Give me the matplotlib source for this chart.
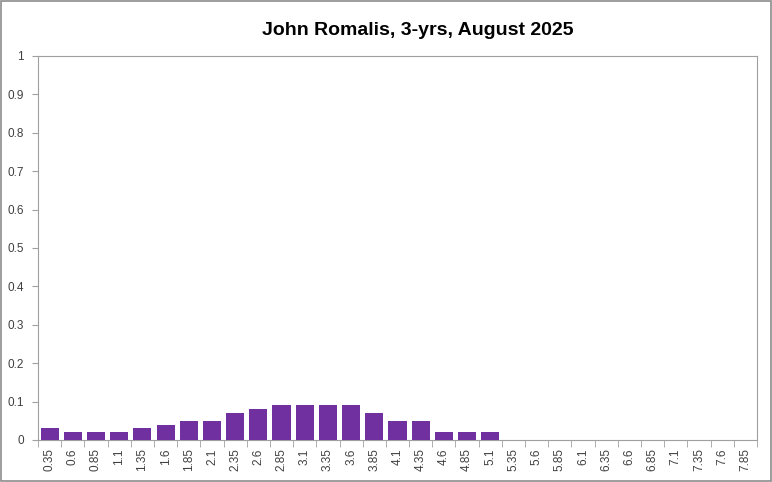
import matplotlib
matplotlib.use("Agg")
import matplotlib.pyplot as plt
import numpy as np

categories = [f"{0.35 + 0.25*i:.2f}".rstrip("0").rstrip(".") for i in range(31)]
values = [0.03, 0.02, 0.02, 0.02, 0.03, 0.04, 0.05, 0.05, 0.07, 0.08,
          0.09, 0.09, 0.09, 0.09, 0.07, 0.05, 0.05, 0.02, 0.02, 0.02,
          0, 0, 0, 0, 0, 0, 0, 0, 0, 0, 0]
yticks = [0, 0.1, 0.2, 0.3, 0.4, 0.5, 0.6, 0.7, 0.8, 0.9, 1]
ytick_labels = ["0", "0.1", "0.2", "0.3", "0.4", "0.5", "0.6", "0.7", "0.8", "0.9", "1"]

plt.rcParams['font.family'] = ['Liberation Sans', 'DejaVu Sans']

fig = plt.figure(figsize=(7.72, 4.82), dpi=100)
ax = fig.add_axes([38/772, 1 - 440/482, (757-38)/772, (440-56)/482])

x = np.arange(len(categories))
ax.bar(x, values, width=0.78, color="#7030A0", zorder=3)
ax.set_xlim(-0.5, len(categories) - 0.5)
ax.set_ylim(0, 1)
ax.set_yticks(yticks)
ax.set_yticklabels(ytick_labels, fontsize=8.5, color="#404040")
ax.set_xticks(x)
ax.set_xticklabels(categories, rotation=90, fontsize=8.5, color="#404040")
ax.tick_params(axis='x', length=0, pad=6)
ax.set_xticks(np.arange(-0.5, len(categories), 1), minor=True)
ax.tick_params(axis='x', which='minor', length=5, color="#a0a0a0", direction='out')
ax.tick_params(axis='y', length=4, color="#a0a0a0", direction='out', pad=6)
for s in ax.spines.values():
    s.set_color("#a0a0a0")
    s.set_linewidth(0.8)

fig.text(0.541, 0.937, "John Romalis, 3-yrs, August 2025", ha='center', va='center',
         fontsize=14, fontweight='bold', family=['Liberation Sans Narrow', 'Liberation Sans', 'DejaVu Sans'])

border = plt.Rectangle((0.0015, 0.002), 0.997, 0.996, transform=fig.transFigure,
                       fill=False, edgecolor="#8c8c8c", linewidth=1.2)
fig.patches.append(border)

fig.savefig("out.png", dpi=100)
